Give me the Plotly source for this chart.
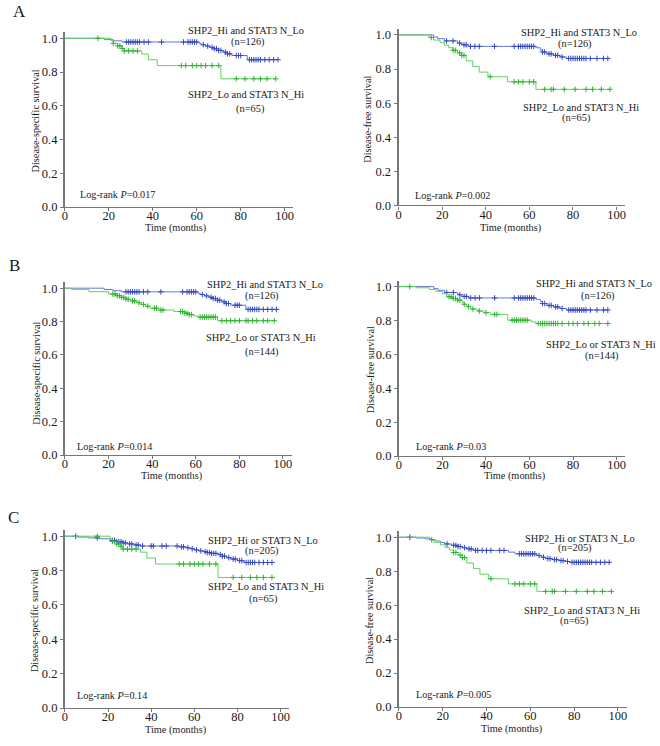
import plotly.graph_objects as go

# Kaplan-Meier curves: event times (months), survival after each event, censor times
# SHP2_Hi and STAT3 N_Lo (n=126)
t_hi126_dss = [18, 22, 26, 61, 62, 64, 66, 68, 70, 72, 74, 76, 83]
s_hi126_dss = [0.992, 0.985, 0.978, 0.97, 0.962, 0.954, 0.946, 0.938, 0.928, 0.918, 0.908, 0.898, 0.873]
c_hi126_dss = [28, 29, 30, 31, 32, 33, 34, 36, 38, 44, 54, 56, 57, 58, 59, 60, 63, 65, 67, 68, 69, 70,
               71, 73, 74, 75, 78, 79, 80, 84, 85, 86, 87, 88, 89, 91, 93, 95, 97]
t_hi126_dfs = [16, 18, 21, 27, 29, 32, 63, 65, 66, 68, 71, 74, 77]
s_hi126_dfs = [0.988, 0.978, 0.965, 0.952, 0.942, 0.933, 0.925, 0.912, 0.9, 0.889, 0.88, 0.871, 0.862]
c_hi126_dfs = [22, 25, 28, 30, 31, 33, 35, 37, 44, 53, 55, 56, 57, 58, 59, 60, 61, 62, 66, 67, 69, 70,
               72, 73, 75, 78, 79, 80, 81, 82, 83, 84, 85, 86, 88, 91, 94, 96]

# SHP2_Lo and STAT3 N_Hi (n=65)
t_lo65_dss = [21, 22, 24, 26, 27, 35, 38, 42, 71]
s_lo65_dss = [0.985, 0.97, 0.955, 0.94, 0.925, 0.907, 0.873, 0.838, 0.76]
c_lo65_dss = [15, 22, 24, 25, 26, 27, 29, 31, 33, 53, 55, 58, 60, 62, 64, 67, 70, 78, 82, 86, 89, 92, 96]
t_lo65_dfs = [14, 16, 19, 21, 23, 25, 27, 29, 31, 34, 37, 41, 50, 63]
s_lo65_dfs = [0.985, 0.97, 0.955, 0.94, 0.925, 0.91, 0.895, 0.88, 0.848, 0.815, 0.782, 0.755, 0.725, 0.681]
c_lo65_dfs = [15, 25, 26, 28, 29, 30, 42, 53, 55, 57, 60, 62, 67, 70, 71, 76, 81, 86, 89, 93, 97]

# SHP2_Lo or STAT3 N_Hi (n=144)
t_lo144_dss = [3, 11, 20, 24, 26, 28, 30, 33, 35, 37, 39, 43, 50, 55, 57, 59, 61, 70]
s_lo144_dss = [0.993, 0.979, 0.965, 0.955, 0.945, 0.934, 0.924, 0.913, 0.903, 0.892, 0.88, 0.869,
               0.86, 0.851, 0.842, 0.834, 0.827, 0.805]
c_lo144_dss = [22, 23, 24, 25, 26, 27, 28, 29, 31, 32, 34, 36, 38, 41, 42, 44, 45, 53, 54, 55, 56, 57,
               58, 62, 63, 64, 65, 66, 67, 68, 69, 72, 74, 76, 78, 80, 83, 84, 86, 88, 91, 93, 96]
t_lo144_dfs = [8, 14, 17, 20, 22, 25, 27, 29, 30, 31, 33, 36, 39, 42, 50, 61, 63]
s_lo144_dfs = [0.993, 0.983, 0.972, 0.958, 0.94, 0.93, 0.92, 0.908, 0.896, 0.882, 0.868, 0.856,
               0.846, 0.836, 0.802, 0.792, 0.782]
c_lo144_dfs = [5, 23, 24, 25, 26, 27, 28, 30, 32, 34, 37, 40, 44, 45, 52, 53, 54, 55, 56, 57, 58, 59,
               64, 65, 66, 67, 68, 69, 70, 71, 72, 73, 75, 78, 80, 82, 85, 87, 90, 92, 96]

# SHP2_Hi or STAT3 N_Lo (n=205)
t_hi205_dss = [6, 11, 16, 21, 24, 27, 29, 32, 35, 53, 56, 58, 60, 62, 64, 66, 68, 71, 73, 75, 77, 80, 83]
s_hi205_dss = [0.995, 0.99, 0.985, 0.975, 0.968, 0.961, 0.955, 0.949, 0.943, 0.938, 0.933, 0.927,
               0.92, 0.915, 0.91, 0.905, 0.9, 0.893, 0.884, 0.875, 0.867, 0.858, 0.847]
c_hi205_dss = [5, 15, 22, 23, 24, 25, 26, 27, 28, 30, 31, 33, 34, 36, 40, 41, 45, 47, 52, 54, 55, 57,
               59, 61, 63, 65, 66, 67, 68, 69, 70, 72, 73, 74, 76, 78, 79, 81, 82, 84, 85, 86, 87, 88,
               90, 92, 94, 96]
t_hi205_dfs = [8, 12, 15, 17, 19, 21, 24, 27, 29, 31, 34, 50, 53, 63, 65, 67, 70, 73, 76, 78]
s_hi205_dfs = [0.995, 0.99, 0.984, 0.977, 0.968, 0.96, 0.952, 0.945, 0.938, 0.931, 0.922, 0.912,
               0.902, 0.892, 0.882, 0.874, 0.868, 0.862, 0.857, 0.852]
c_hi205_dfs = [5, 22, 25, 26, 27, 28, 30, 32, 33, 35, 36, 38, 40, 42, 46, 48, 55, 56, 57, 58, 59, 60,
               61, 62, 64, 66, 68, 69, 71, 72, 74, 75, 77, 79, 80, 81, 82, 83, 84, 85, 86, 87, 88, 90,
               92, 94, 96]

x_ticks = [0, 20, 40, 60, 80, 100]
y_ticks = [0.0, 0.2, 0.4, 0.6, 0.8, 1.0]

W, H = 660, 746
FONT = "Liberation Serif, Times New Roman, serif"
BLUE_LINE, BLUE_MARK = "#6577d8", "#3448c2"
GREEN_LINE, GREEN_MARK = "#62d062", "#2cb52c"


def surv_at(t, s, c):
    v = 1.0
    for ti, si in zip(t, s):
        if ti <= c:
            v = si
    return v


# panel geometry in pixels: x of month 0, px per month, y of survival 0, px per unit
panels = [
    dict(x0=62.3, xs=2.21, y0=208.3, ys=170.6, ytitle="Disease-specific survival",
         curves=[(t_hi126_dss, s_hi126_dss, c_hi126_dss, "b"), (t_lo65_dss, s_lo65_dss, c_lo65_dss, "g")],
         p="0.017", lab1=("SHP2_Hi and STAT3 N_Lo", 244, 29.5, "(n=126)", 246.7, 41.7),
         lab2=("SHP2_Lo and STAT3 N_Hi", 244, 94.3, "(n=65)", 248.3, 109), plog=(75, 196),
         tx=(173.3, 229.3), ty=(32.3, 121.7)),
    dict(x0=398, xs=2.193, y0=206.7, ys=172.4, ytitle="Disease-free survival",
         curves=[(t_hi126_dfs, s_hi126_dfs, c_hi126_dfs, "b"), (t_lo65_dfs, s_lo65_dfs, c_lo65_dfs, "g")],
         p="0.002", lab1=("SHP2_Hi and STAT3 N_Lo", 579.3, 31.7, "(n=126)", 575, 43.3),
         lab2=("SHP2_Lo and STAT3 N_Hi", 581.7, 107.3, "(n=65)", 576, 118.3), plog=(412.7, 196.7),
         tx=(511, 229.3), ty=(367.3, 120)),
    dict(x0=62.3, xs=2.194, y0=459, ys=168.7, ytitle="Disease-specific survival",
         curves=[(t_hi126_dss, s_hi126_dss, c_hi126_dss, "b"), (t_lo144_dss, s_lo144_dss, c_lo144_dss, "g")],
         p="0.014", lab1=("SHP2_Hi and STAT3 N_Lo", 263.3, 286.7, "(n=126)", 260.7, 297.7),
         lab2=("SHP2_Lo or STAT3 N_Hi", 260, 340, "(n=144)", 260.7, 355), plog=(72.7, 450.7),
         tx=(170, 480), ty=(34.3, 376.7)),
    dict(x0=398.3, xs=2.19, y0=460, ys=171.3, ytitle="Disease-free survival",
         curves=[(t_hi126_dfs, s_hi126_dfs, c_hi126_dfs, "b"), (t_lo144_dfs, s_lo144_dfs, c_lo144_dfs, "g")],
         p="0.03", lab1=("SHP2_Hi and STAT3 N_Lo", 595, 286, "(n=126)", 598.3, 297.7),
         lab2=("SHP2_Lo or STAT3 N_Hi", 601.7, 347.3, "(n=144)", 602.7, 359), plog=(413.3, 450.7),
         tx=(515, 480), ty=(369.3, 373.3)),
    dict(x0=62.3, xs=2.17, y0=714.7, ys=173.7, ytitle="Disease-specific survival",
         curves=[(t_hi205_dss, s_hi205_dss, c_hi205_dss, "b"), (t_lo65_dss, s_lo65_dss, c_lo65_dss, "g")],
         p="0.14", lab1=("SHP2_Hi or STAT3 N_Lo", 261.7, 545, "(n=205)", 261, 556),
         lab2=("SHP2_Lo and STAT3 N_Hi", 265, 591.7, "(n=65)", 261.7, 604.3), plog=(72.7, 702.3),
         tx=(173.3, 737.3), ty=(32.3, 626.7)),
    dict(x0=398.3, xs=2.204, y0=713.7, ys=171.7, ytitle="Disease-free survival",
         curves=[(t_hi205_dfs, s_hi205_dfs, c_hi205_dfs, "b"), (t_lo65_dfs, s_lo65_dfs, c_lo65_dfs, "g")],
         p="0.005", lab1=("SHP2_Hi or STAT3 N_Lo", 580.7, 543.3, "(n=205)", 575, 553.3),
         lab2=("SHP2_Lo and STAT3 N_Hi", 582.7, 616, "(n=65)", 574.3, 626.7), plog=(413.3, 701),
         tx=(511.7, 736), ty=(369.3, 626.7)),
]

fig = go.Figure()
annotations = []
layout = {}


def ann(text, x, y, size=10.4, xanchor="center", **kw):
    annotations.append(dict(text=text, x=x / W, y=1 - y / H, xref="paper", yref="paper",
                            xanchor=xanchor, yanchor="middle", showarrow=False,
                            font=dict(family=FONT, size=size, color="#1a1a1a"), **kw))


for i, p in enumerate(panels):
    n = "" if i == 0 else str(i + 1)
    xa, ya = "x" + n, "y" + n
    for t, s, c, col in p["curves"]:
        lc, mc = (BLUE_LINE, BLUE_MARK) if col == "b" else (GREEN_LINE, GREEN_MARK)
        end = max(c[-1], t[-1])
        fig.add_trace(go.Scatter(x=[0] + t + [end], y=[1.0] + s + [s[-1]], mode="lines",
                                 line=dict(color=lc, width=1, shape="hv"),
                                 xaxis=xa, yaxis=ya, showlegend=False, hoverinfo="skip"))
        fig.add_trace(go.Scatter(x=c, y=[surv_at(t, s, ci) for ci in c], mode="markers",
                                 marker=dict(symbol="cross-thin", size=4, line=dict(color=mc, width=1)),
                                 xaxis=xa, yaxis=ya, showlegend=False, hoverinfo="skip"))
    xr, yr = 104, 1.035
    common = dict(showgrid=False, zeroline=False, showline=True, linecolor="#777777",
                  ticks="outside", ticklen=3, tickwidth=1, tickcolor="#777777",
                  tickfont=dict(family=FONT, size=12.5, color="#1a1a1a"))
    layout["xaxis" + n] = dict(domain=[p["x0"] / W, (p["x0"] + xr * p["xs"]) / W], range=[0, xr],
                               anchor=ya, tickvals=x_ticks, linewidth=1.2, ticklabelstandoff=-6,
                               **common)
    layout["yaxis" + n] = dict(domain=[1 - p["y0"] / H, 1 - (p["y0"] - yr * p["ys"]) / H],
                               range=[0, yr], anchor=xa, tickvals=y_ticks, tickformat=".1f",
                               linewidth=2, **common)
    t1, x1, y1, n1, nx1, ny1 = p["lab1"]
    t2, x2, y2, n2, nx2, ny2 = p["lab2"]
    ann(t1, x1, y1)
    ann(n1, nx1, ny1)
    ann(t2, x2, y2)
    ann(n2, nx2, ny2)
    ann("Log-rank <i>P</i>=" + p["p"], p["plog"][0], p["plog"][1], size=10.2, xanchor="left")
    ann("Time (months)", p["tx"][0], p["tx"][1], size=10.3)
    ann(p["ytitle"], p["ty"][0], p["ty"][1], size=10.3, textangle=-90)

ann("A", 8, 11, size=17, xanchor="left")
ann("B", 4, 267, size=17, xanchor="left")
ann("C", 3, 522, size=17, xanchor="left")

fig.update_layout(width=W, height=H, margin=dict(l=0, r=0, t=0, b=0),
                  paper_bgcolor="white", plot_bgcolor="white",
                  annotations=annotations, **layout)

fig.write_html("out.html", config={"displayModeBar": False},
               post_script="document.body.style.margin='0';")
